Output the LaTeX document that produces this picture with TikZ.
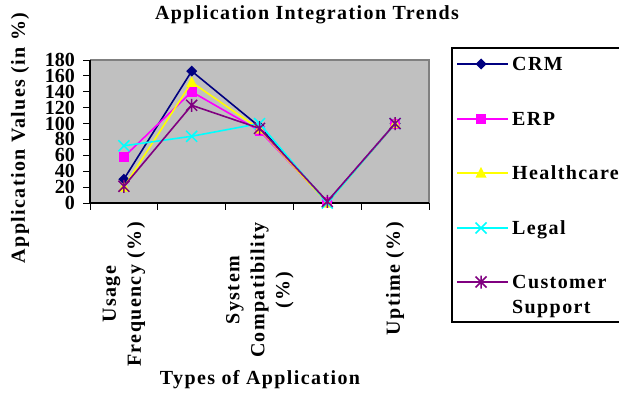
\documentclass[tikz,border=0pt]{standalone}
\usepackage{fontspec}
\setmainfont{Liberation Serif}
\usetikzlibrary{positioning}

\definecolor{crmcol}{HTML}{000080}
\definecolor{erpcol}{HTML}{FF00FF}
\definecolor{hccol}{HTML}{FFFF00}
\definecolor{legcol}{HTML}{00FFFF}
\definecolor{cscol}{HTML}{800080}
\definecolor{plotbg}{HTML}{C0C0C0}
\definecolor{plotrim}{HTML}{808080}

\newcommand{\bigbf}{\fontsize{20}{25}\selectfont\bfseries}
\newcommand{\spaced}{\addfontfeatures{LetterSpace=7}}

\begin{document}
\begin{tikzpicture}[
    x=1pt, y=1pt,
    txt/.style={font=\bigbf\spaced, inner sep=0pt},
    ticklbl/.style={font=\bigbf, anchor=east, inner sep=0pt, text height=13pt, text depth=0pt},
    catlbl/.style={txt, rotate=90, anchor=east, align=center},
    series/.style={line width=1.6pt, line join=round},
    pics/crmmark/.style={code={\fill[crmcol] (-5.5pt,0pt) -- (0pt,5.5pt) -- (5.5pt,0pt) -- (0pt,-5.5pt) -- cycle;}},
    pics/erpmark/.style={code={\fill[erpcol] (-5pt,-5pt) rectangle (5pt,5pt);}},
    pics/hcmark/.style={code={\fill[hccol] (-5.5pt,-4.5pt) -- (5.5pt,-4.5pt) -- (0pt,6pt) -- cycle;}},
    pics/legmark/.style={code={\draw[legcol, line width=1.5pt] (-5.5pt,-5.5pt) -- (5.5pt,5.5pt) (-5.5pt,5.5pt) -- (5.5pt,-5.5pt);}},
    pics/csmark/.style={code={\draw[cscol, line width=1.5pt] (-5.5pt,-5.5pt) -- (5.5pt,5.5pt) (-5.5pt,5.5pt) -- (5.5pt,-5.5pt) (0pt,-6.5pt) -- (0pt,6.5pt);}},
  ]
  \useasboundingbox (0,0) rectangle (619,392);

  \node [txt] (title) at (307,377) {Application Integration Trends};

  % plot area
  \fill [plotbg] (90,189) rectangle (429,332);
  \draw [plotrim, line width=1.2pt] (90,332) -- (429,332) -- (429,189);
  \draw [line width=1.2pt] (90,332) -- (90,189) -- (429,189);
  \foreach \v in {0,20,...,180} {
    \draw [line width=1pt] (83,{189+0.7944*\v}) -- (90,{189+0.7944*\v});
    \node [ticklbl] (tick\v) at (75,{189+0.7944*\v}) {\v};
  }
  \foreach \i in {0,...,5}
    \draw [line width=1pt] ({90+67.8*\i},189) -- ({90+67.8*\i},182);

  \begin{scope}[shift={(90,189)}, x=67.8pt, y=0.7944pt]
    \draw [series, crmcol] (0.5,30) -- (1.5,166) -- (2.5,96) -- (3.5,1) -- (4.5,100);
    \foreach \c/\v in {0.5/30,1.5/166,2.5/96,3.5/1,4.5/100} \pic at (\c,\v) {crmmark};
    \draw [series, erpcol] (0.5,58) -- (1.5,140) -- (2.5,91) -- (3.5,1) -- (4.5,100);
    \foreach \c/\v in {0.5/58,1.5/140,2.5/91,3.5/1,4.5/100} \pic at (\c,\v) {erpmark};
    \draw [series, hccol] (0.5,20) -- (1.5,152) -- (2.5,93) -- (3.5,0) -- (4.5,100);
    \foreach \c/\v in {0.5/20,1.5/152,2.5/93,3.5/0,4.5/100} \pic at (\c,\v) {hcmark};
    \draw [series, legcol] (0.5,72) -- (1.5,84) -- (2.5,100) -- (3.5,0) -- (4.5,100);
    \foreach \c/\v in {0.5/72,1.5/84,2.5/100,3.5/0,4.5/100} \pic at (\c,\v) {legmark};
    \draw [series, cscol] (0.5,21) -- (1.5,123) -- (2.5,94) -- (3.5,2) -- (4.5,100);
    \foreach \c/\v in {0.5/21,1.5/123,2.5/94,3.5/2,4.5/100} \pic at (\c,\v) {csmark};
  \end{scope}

  \node [txt, rotate=90] (ytitle) at (20,254) {Application Values (in \%)};
  \node [txt] (xtitle) at (260,12) {Types of Application};
  \node [catlbl] (cat1) at (124,170) {Usage\\Frequency (\%)};
  \node [catlbl] (cat3) at (260,170) {System\\Compatibility\\(\%)};
  \node [catlbl] (cat5) at (395,170) {Uptime (\%)};

  % legend
  \draw [line width=1.2pt] (660,344) -- (452,344) -- (452,70) -- (660,70);
  \foreach \y/\mk/\col/\name in {328/crmmark/crmcol/CRM, 273/erpmark/erpcol/ERP,
      219/hcmark/hccol/Healthcare, 164/legmark/legcol/Legal} {
    \draw [series, \col] (457,\y) -- (508,\y);
    \pic at (481,\y) {\mk};
    \node [txt, anchor=base west] (key\mk) at (512,\y-6.6) {\name};
  }
  \draw [series, cscol] (457,110) -- (508,110);
  \pic at (481,110) {csmark};
  \node [txt, anchor=base west, align=left] (keycs) at (512,78.4) {Customer\\Support};
\end{tikzpicture}
\end{document}
